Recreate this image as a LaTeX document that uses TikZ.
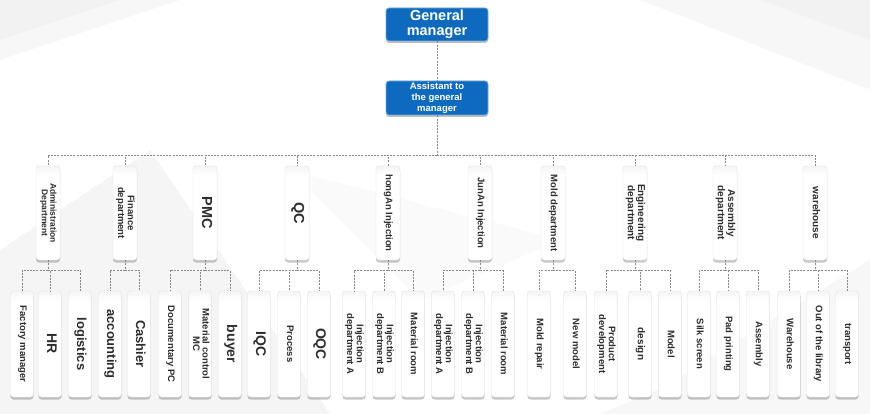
\documentclass[tikz,border=0pt]{standalone}
\usepackage{fontspec}
\setmainfont{Liberation Sans}
\usepackage{graphicx}
\usetikzlibrary{shadows}
\definecolor{blueb}{RGB}{14,106,190}
\definecolor{blueline}{RGB}{120,170,222}
\definecolor{txt}{RGB}{45,45,45}
\definecolor{connc}{RGB}{135,135,135}
\pgfdeclareverticalshading{boxshade}{100bp}{color(0bp)=(white); color(70bp)=(white); color(90bp)=(black!16); color(100bp)=(black!22)}
\newcommand{\rottxt}[3]{\rotatebox{-90}{\fontsize{#1}{#2}\selectfont\bfseries\begin{tabular}{@{}c@{}}#3\end{tabular}}}
\tikzset{
  gbox/.style={rounded corners=3pt, draw=black!12, line width=0.4pt, shading=boxshade,
     text=txt, inner sep=0pt,
     drop shadow={shadow xshift=0pt, shadow yshift=-2.5pt, opacity=0.22, fill=black}},
  dept/.style={gbox, minimum width=24pt, minimum height=94pt},
  leaf/.style={gbox, minimum width=23pt, minimum height=106pt},
  bluebox/.style={rounded corners=3pt, fill=blueb, draw=blueline, line width=0.8pt,
     text=white, align=center, minimum width=102pt, inner sep=1pt,
     drop shadow={shadow xshift=0pt, shadow yshift=-2pt, opacity=0.25, fill=black}},
  conn/.style={draw=connc, line width=0.6pt, dash pattern=on 2pt off 1.2pt}
}
\begin{document}
\begin{tikzpicture}[x=1pt,y=-1pt]
\useasboundingbox (0,0) rectangle (870,414);
% background
\fill[black!3] (0,0) rectangle (870,414);
\fill[white] (0,60) -- (180,0) -- (640,0) -- (870,90) -- (870,300) -- (600,414) -- (0,414) -- cycle;
\fill[black!4] (150,150) -- (330,414) -- (0,414) -- (0,250) -- cycle;
\fill[black!3] (620,414) -- (870,260) -- (870,414) -- cycle;
\fill[black!2] (290,170) -- (560,240) -- (420,300) -- cycle;
\fill[black!5] (0,0) -- (120,0) -- (0,40) -- cycle;
\fill[black!5] (870,0) -- (760,0) -- (870,40) -- cycle;

% top boxes
\node[bluebox, minimum height=33pt, font=\fontsize{14.5}{15}\selectfont\bfseries] (gm) at (437,24.5) {General\\manager};
\node[bluebox, minimum height=34pt, font=\fontsize{9.5}{11}\selectfont\bfseries] (asst) at (437,98) {Assistant to\\the general\\manager};
\coordinate (hub) at (437,155);

% departments
\foreach \n/\x/\s/\t in {
  d1/48/8.5/{Administration\\Department},
  d2/125/9.5/{Finance\\department},
  d3/205/14.5/{PMC},
  d4/297/14.5/{QC},
  d5/388/9.5/{hongAn Injection},
  d6/480/9.5/{JunAn Injection},
  d7/553/9.5/{Mold department},
  d8/635/10/{Engineering\\department},
  d9/725/10/{Assembly\\department},
  d10/815/10/{warehouse}}{
  \node[dept] (\n) at (\x,213) {\rottxt{\s}{\s}{\t}};
}

% leaves
\foreach \n/\x/\s/\t in {
  c1/22/9.5/{Factory manager}, c2/50/14/{HR}, c3/80/13/{logistics},
  c4/110/13/{accounting}, c5/139/13/{Cashier},
  c6/170/9.5/{Documentary PC}, c7/200/9.5/{Material control\\MC}, c8/230/14/{buyer},
  c9/259/14/{IQC}, c10/289/9.5/{Process}, c11/319/14/{OQC},
  c12/354/9.5/{Injection\\department A}, c13/384/9.5/{Injection\\department B}, c14/413/9.5/{Material room},
  c15/443/9.5/{Injection\\department A}, c16/473/9.5/{Injection\\department B}, c17/503/9.5/{Material room},
  c18/539/9.5/{Mold repair}, c19/575/9.5/{New model},
  c20/606/9.5/{Product\\development}, c21/640/10/{design}, c22/670/9.5/{Model},
  c23/699/9.5/{Silk screen}, c24/728/9.5/{Pad printing}, c25/758/9.5/{Assembly},
  c26/789/9.5/{Warehouse}, c27/818/9.5/{Out of the library}, c28/847/9.5/{transport}}{
  \node[leaf] (\n) at (\x,344) {\rottxt{\s}{\s}{\t}};
}

% connectors
\draw[conn] (gm.south) -- (asst.north);
\draw[conn] (asst.south) -- (hub);
\foreach \d in {d1,d2,d3,d4,d5,d6,d7,d8,d9,d10}{
  \draw[conn] (hub) -| (\d.north);
  \draw[conn] (\d.south) -- ++(0,10) coordinate (\d b);
}
\foreach \d/\c in {d1/c1,d1/c2,d1/c3,d2/c4,d2/c5,d3/c6,d3/c7,d3/c8,d4/c9,d4/c10,d4/c11,
  d5/c12,d5/c13,d5/c14,d6/c15,d6/c16,d6/c17,d7/c18,d7/c19,d8/c20,d8/c21,d8/c22,
  d9/c23,d9/c24,d9/c25,d10/c26,d10/c27,d10/c28}{
  \draw[conn] (\d b) -| (\c.north);
}
\end{tikzpicture}
\end{document}
